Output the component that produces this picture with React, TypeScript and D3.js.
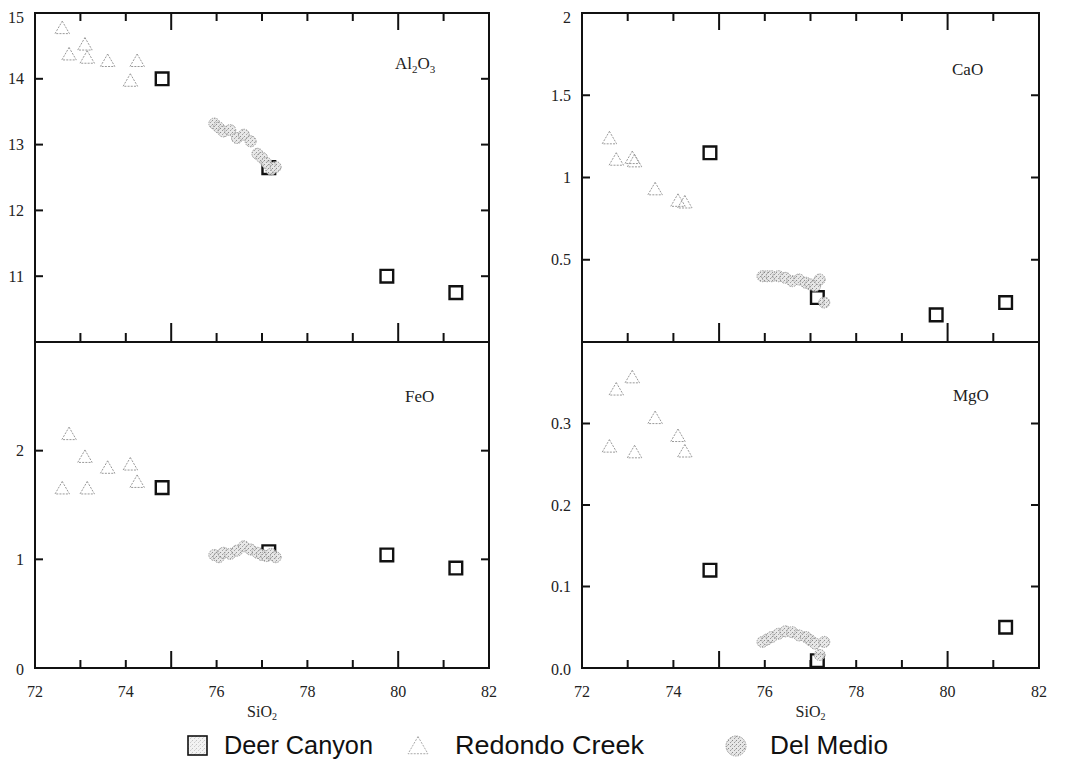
import React from 'react';
import * as d3 from 'd3';

// ---------- data ----------
const xLabelTicks = [72, 74, 76, 78, 80, 82];
const xMinorTicks = [73, 74, 75, 76, 77, 78, 79, 80, 81];
const xMajorTicks = [75, 80];

// Deer Canyon (squares)
const dcSiO2 = [74.8, 77.15, 79.75, 81.27];
const dcAl2O3 = [14.0, 12.65, 11.0, 10.75];
const dcCaO = [1.15, 0.27, 0.165, 0.24];
const dcFeO = [1.66, 1.07, 1.04, 0.92];
const dcMgO: (number | null)[] = [0.12, 0.009, null, 0.05];

// Redondo Creek (triangles)
const rcSiO2 = [72.6, 72.75, 73.1, 73.15, 73.6, 74.1, 74.25];
const rcAl2O3 = [14.75, 14.35, 14.5, 14.3, 14.25, 13.95, 14.25];
const rcCaO = [1.23, 1.1, 1.11, 1.09, 0.92, 0.85, 0.84];
const rcFeO = [1.64, 2.14, 1.93, 1.64, 1.83, 1.86, 1.7];
const rcMgO = [0.27, 0.34, 0.355, 0.263, 0.305, 0.283, 0.264];

// Del Medio (stippled circles)
const dmSiO2 = [75.95, 76.05, 76.15, 76.3, 76.45, 76.6, 76.75, 76.9, 77.0, 77.1, 77.2, 77.3];
const dmAl2O3 = [13.32, 13.26, 13.2, 13.22, 13.1, 13.15, 13.05, 12.86, 12.8, 12.72, 12.62, 12.66];
const dmCaO = [0.4, 0.4, 0.4, 0.4, 0.39, 0.37, 0.38, 0.36, 0.35, 0.34, 0.38, 0.24];
const dmFeO = [1.04, 1.02, 1.06, 1.05, 1.08, 1.12, 1.09, 1.06, 1.04, 1.03, 1.05, 1.02];
const dmMgO = [0.032, 0.035, 0.038, 0.042, 0.045, 0.044, 0.04, 0.038, 0.034, 0.03, 0.016, 0.032];

const al2o3Ticks = [11, 12, 13, 14, 15];
const caoTicks = [0.5, 1, 1.5, 2];
const feoTicks = [0, 1, 2];
const mgoTicks = [0, 0.1, 0.2, 0.3];

const legendNames = ['Deer Canyon', 'Redondo Creek', 'Del Medio'];

// ---------- layout ----------
const cols = [[35, 489], [582, 1039]];
const rows = [[13, 342], [342, 668]];

type Panel = {
  col: number; row: number; domain: [number, number]; ticks: number[];
  fmt: (d: number) => string; dc: (number | null)[]; rc: number[]; dm: number[];
  label: { t: string; sub?: boolean }[]; labelX: number; labelY: number;
};

const panels: Panel[] = [
  { col: 0, row: 0, domain: [10, 15], ticks: al2o3Ticks, fmt: d => String(d), dc: dcAl2O3, rc: rcAl2O3, dm: dmAl2O3,
    label: [{ t: 'Al' }, { t: '2', sub: true }, { t: 'O' }, { t: '3', sub: true }], labelX: 395, labelY: 69 },
  { col: 1, row: 0, domain: [0, 2], ticks: caoTicks, fmt: d => String(d), dc: dcCaO, rc: rcCaO, dm: dmCaO,
    label: [{ t: 'CaO' }], labelX: 952, labelY: 75 },
  { col: 0, row: 1, domain: [0, 3], ticks: feoTicks, fmt: d => String(d), dc: dcFeO, rc: rcFeO, dm: dmFeO,
    label: [{ t: 'FeO' }], labelX: 405, labelY: 402 },
  { col: 1, row: 1, domain: [0, 0.4], ticks: mgoTicks, fmt: d => d3.format('.1f')(d), dc: dcMgO, rc: rcMgO, dm: dmMgO,
    label: [{ t: 'MgO' }], labelX: 953, labelY: 401 },
];

const serif = '"Liberation Serif", "DejaVu Serif", serif';
const sans = '"Liberation Sans", Arial, sans-serif';

const triPath = d3.symbol().type(d3.symbolTriangle).size(90)()!;
const sqPath = d3.symbol().type(d3.symbolSquare).size(160)()!;

function PanelView({ p }: { p: Panel }) {
  const [x0, x1] = cols[p.col];
  const [y0, y1] = rows[p.row];
  const x = d3.scaleLinear().domain([72, 82]).range([x0, x1]);
  const y = d3.scaleLinear().domain(p.domain).range([y1, y0]);
  const bottom = p.row === 1;
  return (
    <g>
      {dcSiO2.map((s, i) => p.dc[i] == null ? null : (
        <path key={'dc' + i} d={sqPath} transform={`translate(${x(s)},${y(p.dc[i] as number)})`}
          fill="none" stroke="#111" strokeWidth={2.4} />
      ))}
      {rcSiO2.map((s, i) => (
        <path key={'rc' + i} d={triPath} transform={`translate(${x(s)},${y(p.rc[i])})`}
          fill="none" stroke="#999" strokeWidth={1} strokeDasharray="2,1.2" />
      ))}
      {dmSiO2.map((s, i) => (
        <circle key={'dm' + i} cx={x(s)} cy={y(p.dm[i])} r={5.5}
          fill="url(#stipple)" fillOpacity={0.9} stroke="#9a9a9a" strokeWidth={1} strokeDasharray="1.5,1" />
      ))}
      <rect x={x0} y={y0} width={x1 - x0} height={y1 - y0} fill="none" stroke="#111" strokeWidth={2} />
      {xMinorTicks.map(t => {
        const major = xMajorTicks.includes(t);
        const elems = [];
        if (!bottom) {
          elems.push(<line key={'t' + t} x1={x(t)} x2={x(t)} y1={y0} y2={y0 + (major ? 17 : 8)} stroke="#111" strokeWidth={2} />);
          elems.push(<line key={'b' + t} x1={x(t)} x2={x(t)} y1={y1} y2={y1 - (major ? 19 : 9)} stroke="#111" strokeWidth={2} />);
        } else {
          elems.push(<line key={'b' + t} x1={x(t)} x2={x(t)} y1={y1} y2={y1 - (major ? 17 : 8)} stroke="#111" strokeWidth={2} />);
        }
        return <g key={t}>{elems}</g>;
      })}
      {p.ticks.filter(t => t !== p.domain[0] && t !== p.domain[1]).map(t => (
        <g key={'y' + t}>
          <line x1={x0} x2={x0 + 8} y1={y(t)} y2={y(t)} stroke="#111" strokeWidth={2} />
          <line x1={x1} x2={x1 - 8} y1={y(t)} y2={y(t)} stroke="#111" strokeWidth={2} />
        </g>
      ))}
      {p.ticks.map(t => {
        let yy = y(t);
        if (t === p.domain[1]) yy += 4;
        if (t === p.domain[0]) yy += 1;
        return (
          <text key={'yl' + t} x={x0 - 11} y={yy} textAnchor="end" dominantBaseline="central"
            fontFamily={serif} fontSize={16} fill="#222">{p.fmt(t)}</text>
        );
      })}
      {bottom && xLabelTicks.map(t => (
        <text key={'xl' + t} x={x(t)} y={697} textAnchor="middle" fontFamily={serif} fontSize={16} fill="#222">{t}</text>
      ))}
      {bottom && (
        <text x={(x0 + x1) / 2} y={717} textAnchor="middle" fontFamily={serif} fontSize={16} fill="#222">
          SiO<tspan fontSize={10} dy={3}>2</tspan>
        </text>
      )}
      <text x={p.labelX} y={p.labelY} fontFamily={serif} fontSize={17} fill="#222">
        {p.label.map((l, i) => l.sub
          ? <tspan key={i} fontSize={11} dy={4}>{l.t}</tspan>
          : <tspan key={i} dy={i > 0 && p.label[i - 1].sub ? -4 : 0}>{l.t}</tspan>)}
      </text>
    </g>
  );
}

export default function App() {
  return (
    <svg width={1069} height={772} style={{ position: 'absolute', left: 0, top: 0, background: '#fff' }}>
      <defs>
        <pattern id="stipple" width={4} height={4} patternUnits="userSpaceOnUse">
          <rect width={4} height={4} fill="#e6e6e6" />
          <rect x={0} y={0} width={1} height={1} fill="#888" />
          <rect x={2} y={2} width={1} height={1} fill="#9a9a9a" />
          <rect x={3} y={1} width={1} height={1} fill="#bbb" />
        </pattern>
      </defs>
      <rect width={1069} height={772} fill="#fff" />
      {panels.map((p, i) => <PanelView key={i} p={p} />)}
      <g>
        <rect x={188} y={736} width={19} height={19} fill="url(#stipple)" fillOpacity={0.5} stroke="#111" strokeWidth={1.6} />
        <text x={224} y={754} fontFamily={sans} fontSize={25} fill="#111" textLength={149} lengthAdjust="spacingAndGlyphs">{legendNames[0]}</text>
        <path d={d3.symbol().type(d3.symbolTriangle).size(170)()!} transform="translate(418,748)"
          fill="none" stroke="#aaa" strokeWidth={1} strokeDasharray="2,1.2" />
        <text x={455} y={754} fontFamily={sans} fontSize={25} fill="#111" textLength={189} lengthAdjust="spacingAndGlyphs">{legendNames[1]}</text>
        <circle cx={736} cy={746} r={10} fill="url(#stipple)" stroke="#999" strokeWidth={1} strokeDasharray="1.5,1" />
        <text x={770} y={754} fontFamily={sans} fontSize={25} fill="#111" textLength={118} lengthAdjust="spacingAndGlyphs">{legendNames[2]}</text>
      </g>
    </svg>
  );
}
